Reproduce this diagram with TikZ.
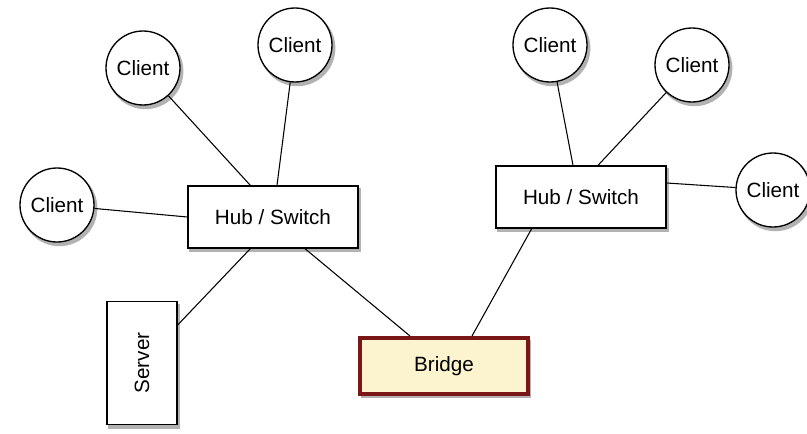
\documentclass[tikz,border=0pt]{standalone}
\usepackage{fontspec}
\setmainfont{Liberation Sans}
\usepackage{xcolor}
\usepackage{tikz}
\definecolor{bridgeRed}{HTML}{7B1616}
\definecolor{bridgeFill}{HTML}{FCF4CE}

\begin{document}
\begin{tikzpicture}[x=0.75pt, y=-0.75pt,
    boxshadow/.style={preaction={draw=black!30, line width=1.5pt, fill=black!30,
                      transform canvas={xshift=1.8pt, yshift=-2.4pt}}},
    client/.style={circle, draw=black, line width=1pt, fill=white, boxshadow,
                   minimum size=55.5pt, inner sep=0pt,
                   font=\fontsize{15.5}{18}\selectfont},
    hub/.style={rectangle, draw=black, line width=1pt, fill=white, boxshadow,
                minimum width=127.5pt, minimum height=46.5pt, inner sep=2pt,
                font=\fontsize{15.5}{18}\selectfont},
    serverbox/.style={hub, minimum width=92pt, minimum height=52.5pt, rotate=90},
    bridgebox/.style={hub, draw=bridgeRed, line width=3pt, fill=bridgeFill,
                      minimum width=126pt, minimum height=42pt},
    wire/.style={line width=0.8pt, black},
  ]
    \useasboundingbox (0,0) rectangle (807,433);
    % hubs, server and bridge
    \node[hub] (hubL) at (273,217) {Hub / Switch};
    \node[hub] (hubR) at (581,197) {Hub / Switch};
    \node[serverbox] (server) at (142,363) {Server};
    \node[bridgebox] (bridge) at (444,366) {Bridge};
    % clients
    \node[client] (cA) at (143,68) {Client};
    \node[client] (cB) at (295,45) {Client};
    \node[client] (cC) at (57,205) {Client};
    \node[client] (cD) at (550,45) {Client};
    \node[client] (cE) at (692,65) {Client};
    \node[client] (cF) at (773,190) {Client};
    % left segment
    \draw[wire] (cA) -- ([xshift=-17pt]hubL.north);
    \draw[wire] (cB) -- ([xshift=3pt]hubL.north);
    \draw[wire] (cC) -- (hubL.west);
    \draw[wire] ([xshift=-17pt]hubL.south) -- ([yshift=28.5pt]server.south);
    \draw[wire] ([xshift=24pt]hubL.south) -- ([xshift=-25.5pt]bridge.north);
    % right segment
    \draw[wire] ([xshift=-37pt]hubR.south) -- ([xshift=21pt]bridge.north);
    \draw[wire] (cD) -- ([xshift=-6pt]hubR.north);
    \draw[wire] (cE) -- ([xshift=12.75pt]hubR.north);
    \draw[wire] (cF) -- ([yshift=10.5pt]hubR.east);
\end{tikzpicture}
\end{document}
